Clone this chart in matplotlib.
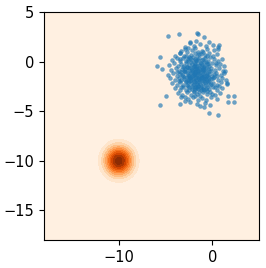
import matplotlib
matplotlib.use("Agg")
import matplotlib.pyplot as plt
import numpy as np

# Gaussian density shown as the background (mean, std)
blob_mean = (-10.0, -10.0)
blob_std = 1.0

# Scatter cloud (x, y)
cloud = [
    # outliers
    (-4.7, 2.6), (-3.6, 2.8), (-1.6, 2.85), (-1.5, 2.75), (-0.9, 2.5), (-5.6, 0.5),
    (-5.9, -0.45), (-5.4, -0.7), (-4.9, -3.5), (-5.6, -4.4), (-3.4, -4.3), (-2.9, -4.0),
    (-1.3, -4.5), (-0.9, -4.6), (-0.3, -5.2), (0.6, -5.4), (1.7, -4.1), (2.3, -3.5),
    (2.3, -4.1), (1.7, -3.5), (1.6, -2.2), (1.4, -0.9), (0.7, 1.7), (0.6, 1.3),
    (-2.4, 2.0), (-3.5, 0.9),
    # top rows
    (-2.4, 1.9), (-2.0, 1.6), (-1.3, 1.8), (-0.7, 1.55), (0.1, 1.7), (-2.9, 1.5),
    (-1.7, 2.1), (-0.4, 1.95),
    (-3.3, 1.1), (-2.6, 1.4), (-2.2, 1.15), (-1.8, 1.35), (-1.1, 1.05), (-0.6, 1.3),
    (0.2, 1.2), (0.6, 1.45), (-1.5, 1.0), (-2.9, 1.25),
    (-4.0, 0.6), (-3.5, 0.85), (-3.0, 0.55), (-2.7, 0.95), (-2.3, 0.7), (-1.9, 0.9),
    (-1.6, 0.6), (-1.2, 0.8), (-0.8, 0.65), (-0.3, 0.9), (0.1, 0.55), (0.5, 0.75),
    (-2.1, 0.5), (-1.0, 0.95),
    (-4.3, 0.2), (-3.8, 0.4), (-3.4, 0.1), (-3.1, 0.35), (-2.8, 0.05), (-2.5, 0.45),
    (-2.2, 0.2), (-1.9, 0.3), (-1.7, 0.05), (-1.4, 0.4), (-1.1, 0.15), (-0.8, 0.35),
    (-0.5, 0.1), (-0.2, 0.45), (0.2, 0.25), (0.6, 0.05), (1.0, 0.3), (-2.6, 0.25),
    (-1.5, 0.2), (-0.9, 0.0),
    # middle rows
    (-4.6, -0.3), (-4.1, -0.1), (-3.7, -0.4), (-3.3, -0.2), (-3.0, -0.45), (-2.8, -0.15),
    (-2.5, -0.35), (-2.3, -0.05), (-2.0, -0.4), (-1.8, -0.2), (-1.6, -0.45), (-1.3, -0.1),
    (-1.1, -0.3), (-0.9, -0.5), (-0.6, -0.2), (-0.3, -0.4), (0.0, -0.1), (0.4, -0.35),
    (0.8, -0.2), (1.2, -0.45), (-2.7, -0.5), (-1.9, -0.1), (-1.4, -0.3), (-0.7, -0.05),
    (-4.4, -0.8), (-3.9, -0.6), (-3.6, -0.95), (-3.2, -0.7), (-3.0, -0.9), (-2.7, -0.55),
    (-2.5, -0.85), (-2.3, -0.65), (-2.1, -0.95), (-1.9, -0.75), (-1.7, -0.6), (-1.5, -0.9),
    (-1.3, -0.7), (-1.1, -0.55), (-0.9, -0.85), (-0.7, -0.65), (-0.4, -0.95), (-0.1, -0.6),
    (0.3, -0.8), (0.7, -0.65), (1.1, -0.9), (-2.9, -0.75), (-2.2, -0.8), (-1.6, -0.7),
    (-1.0, -0.95), (-0.5, -0.75),
    (-4.7, -1.3), (-4.2, -1.1), (-3.8, -1.4), (-3.4, -1.2), (-3.1, -1.45), (-2.9, -1.05),
    (-2.6, -1.3), (-2.4, -1.15), (-2.2, -1.4), (-2.0, -1.2), (-1.8, -1.05), (-1.6, -1.35),
    (-1.4, -1.15), (-1.2, -1.45), (-1.0, -1.25), (-0.8, -1.05), (-0.6, -1.35), (-0.3, -1.2),
    (0.0, -1.4), (0.4, -1.1), (0.9, -1.3), (1.3, -1.15), (-2.5, -1.45), (-1.9, -1.3),
    (-1.3, -1.0), (-0.7, -1.45), (-3.3, -1.0),
    (-4.5, -1.7), (-4.0, -1.9), (-3.6, -1.6), (-3.3, -1.85), (-3.0, -1.55), (-2.8, -1.95),
    (-2.5, -1.7), (-2.3, -1.5), (-2.1, -1.8), (-1.9, -1.6), (-1.7, -1.9), (-1.5, -1.65),
    (-1.3, -1.85), (-1.1, -1.55), (-0.9, -1.75), (-0.6, -1.95), (-0.4, -1.6), (-0.1, -1.8),
    (0.2, -1.55), (0.6, -1.9), (1.0, -1.7), (1.5, -1.85), (-2.7, -1.55), (-2.0, -1.95),
    (-1.4, -1.5), (-0.8, -1.6),
    # lower rows
    (-4.3, -2.2), (-3.8, -2.4), (-3.4, -2.1), (-3.1, -2.35), (-2.8, -2.05), (-2.6, -2.45),
    (-2.3, -2.2), (-2.1, -2.4), (-1.9, -2.1), (-1.6, -2.3), (-1.4, -2.05), (-1.2, -2.45),
    (-1.0, -2.2), (-0.7, -2.35), (-0.5, -2.1), (-0.2, -2.4), (0.1, -2.15), (0.5, -2.35),
    (0.9, -2.05), (1.6, -2.3), (-2.4, -2.0), (-1.5, -2.5), (-0.9, -2.0),
    (-4.0, -2.7), (-3.5, -2.9), (-3.1, -2.6), (-2.8, -2.85), (-2.5, -2.55), (-2.2, -2.75),
    (-2.0, -2.95), (-1.7, -2.6), (-1.5, -2.8), (-1.2, -2.65), (-0.9, -2.9), (-0.6, -2.6),
    (-0.3, -2.8), (0.1, -2.55), (0.5, -2.85), (1.0, -2.7), (-1.9, -2.55), (-1.0, -2.75),
    (-3.7, -3.2), (-3.2, -3.4), (-2.7, -3.1), (-2.3, -3.35), (-2.0, -3.05), (-1.6, -3.25),
    (-1.3, -3.45), (-1.0, -3.1), (-0.6, -3.3), (-0.2, -3.05), (0.3, -3.35), (0.8, -3.15),
    (-1.8, -3.45),
    (-3.3, -3.6), (-2.6, -3.8), (-2.1, -3.55), (-1.5, -3.9), (-1.1, -3.65), (-0.7, -3.85),
    (-0.1, -3.6), (0.5, -3.75),
    (-2.4, -4.1), (-1.6, -4.3), (-0.8, -4.15), (-0.2, -4.35),
    # dense core
    (-2.45, -0.6), (-2.05, -0.55), (-1.75, -0.95), (-1.45, -0.6), (-1.15, -0.85),
    (-0.85, -0.45), (-0.55, -1.1), (-2.65, -1.15), (-2.35, -1.6), (-2.05, -1.35),
    (-1.75, -1.5), (-1.45, -1.8), (-1.15, -1.3), (-0.85, -1.4), (-0.45, -1.5),
    (-2.55, -2.1), (-2.25, -1.85), (-1.95, -2.25), (-1.65, -2.05), (-1.35, -2.25),
    (-1.05, -1.9), (-0.75, -2.15), (-0.35, -1.95), (-2.15, -2.6), (-1.85, -2.8),
    (-1.55, -2.45), (-1.25, -2.9), (-0.95, -2.55), (-0.65, -2.8), (-2.75, -2.35),
    (-3.05, -1.75), (-3.25, -1.35), (-2.95, -0.95), (-3.15, -0.55), (-2.55, 0.1),
    (-2.15, -0.25), (-1.75, 0.2), (-1.25, -0.15), (-0.95, 0.25), (-0.45, -0.25),
    (-0.15, -0.9), (0.15, -1.25), (0.05, -1.65), (-0.15, -2.25), (0.25, -2.6),
    (-0.55, -3.0), (-1.45, -3.1), (-2.45, -2.9), (-3.35, -2.6), (-3.6, -2.0),
    (-3.75, -1.0), (-3.45, 0.3), (-2.85, 0.6), (-1.45, 0.75), (-0.55, 0.55),
    (0.35, -0.1), (0.55, -1.45), (0.75, -2.5), (-0.05, -3.3), (-2.9, -3.6),
    (-1.85, -0.45), (-1.55, -1.1), (-1.25, -1.65), (-1.9, -1.1), (-2.2, -1.05),
    (-1.6, -2.65), (-2.6, -1.9), (-1.0, -0.7), (-0.65, -1.75), (-2.35, 0.35),
]
cloud_x = [p[0] for p in cloud]
cloud_y = [p[1] for p in cloud]

x_limits = (-18, 5)
y_limits = (-18, 5)
x_ticks = [-10, 0]
y_ticks = [-15, -10, -5, 0, 5]

fig = plt.figure(figsize=(2.66, 2.68), dpi=100)
ax = fig.add_axes([0.165, 0.104, 0.809, 0.851])

gx = np.linspace(x_limits[0], x_limits[1], 300)
gy = np.linspace(y_limits[0], y_limits[1], 300)
X, Y = np.meshgrid(gx, gy)
Z = np.exp(-((X - blob_mean[0]) ** 2 + (Y - blob_mean[1]) ** 2) / (2 * blob_std ** 2))
Z /= 2 * np.pi * blob_std ** 2
ax.contourf(X, Y, Z, levels=10, cmap="Oranges")

ax.scatter(cloud_x, cloud_y, s=8, color="tab:blue", alpha=0.65, linewidths=0.3)

ax.set_xlim(*x_limits)
ax.set_ylim(*y_limits)
ax.set_xticks(x_ticks)
ax.set_yticks(y_ticks)
ax.tick_params(labelsize=10.5)

fig.savefig("out.png", dpi=100)
